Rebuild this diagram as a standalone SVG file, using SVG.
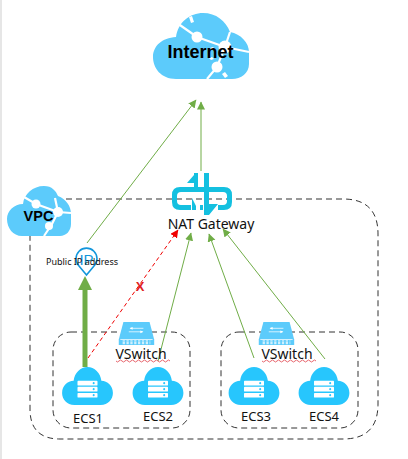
<svg xmlns="http://www.w3.org/2000/svg" width="408" height="459" viewBox="0 0 408 459">
<style>
.lbl{font-family:"Noto Sans","Liberation Sans",Arial,sans-serif;fill:#111}
.bold{font-family:"Liberation Sans",Arial,sans-serif;font-weight:700;fill:#000}
.dash{fill:none;stroke:#333;stroke-width:1;stroke-dasharray:6 4}
.g{fill:none;stroke:#70ad47;stroke-width:1}
.cloud{fill:#5ccbfb}
.cut{fill:none;stroke:#fff;stroke-width:2.2}
.ecs{fill:#27c6fd}
.bar{fill:#fff}
.natf{fill:#14c0e0}
.sw{fill:#5ccbfb}
.swl{stroke:#fff;stroke-width:1;fill:none}
.sq{fill:none;stroke:#e0404a;stroke-width:.8}
</style>
<defs>
<marker id="ga" markerWidth="9" markerHeight="9" refX="7.500" refY="4" orient="auto" markerUnits="userSpaceOnUse"><path d="M0 0L8 4L0 8Z" fill="#70ad47"/></marker>
<marker id="ra" markerWidth="9" markerHeight="9" refX="7.500" refY="4" orient="auto" markerUnits="userSpaceOnUse"><path d="M0 0L8 4L0 8Z" fill="#f00000"/></marker>
<g id="server"><path class="ecs" d="M-17 22C-27 22-33 15-33 8C-33 0-26-6-18-6C-17-15-9-22 0-22C9-22 17-15 18-6C26-6 33 0 33 8C33 15 27 22 17 22Z"/><g class="bar"><rect x="-13" y="-6" width="26" height="5.500" rx="1"/><rect x="-13" y="1" width="26" height="5.500" rx="1"/><rect x="-13" y="8" width="26" height="5.500" rx="1"/></g><g class="ecs"><circle cx="8" cy="-3.300" r="1.300"/><circle cx="8" cy="3.700" r="1.300"/><circle cx="8" cy="10.700" r="1.300"/></g></g>
<g id="switch"><path class="sw" d="M7 0H41L47 25V33H1V25Z"/><path class="swl" d="M3 25H45M16 9H33M14 14H32"/><path d="M15 9l4-2v4zM33 14l-4-2v4z" fill="#fff"/><path d="M6 27h36M6 29h36M6 31h36" stroke="#fff" stroke-width="1.200" stroke-dasharray="3 2"/></g>
</defs>
<rect width="408" height="459" fill="#fff"/>
<rect width="2" height="459" fill="#e6e6e6"/>

<g id="connectors">
<path class="dash" d="M56 199H343Q378 199 378 234V404Q378 439 343 439H60Q30 439 30 409V236"/>
<rect class="dash" x="53" y="332" width="137" height="96" rx="18"/>
<rect class="dash" x="221" y="332" width="137" height="96" rx="18"/>
<path class="g" d="M87 243L196 100" marker-end="url(#ga)"/>
<path class="g" d="M201 171V102" marker-end="url(#ga)"/>
<path class="g" d="M158 361L191 233" marker-end="url(#ga)"/>
<path class="g" d="M254 358L209 234" marker-end="url(#ga)"/>
<path class="g" d="M325 359L223 229" marker-end="url(#ga)"/>
<path d="M88 358L178 230" fill="none" stroke="#f00000" stroke-width="1" stroke-dasharray="4 3" marker-end="url(#ra)"/>
<path d="M85 367V288" fill="none" stroke="#70ad47" stroke-width="5"/>
<path d="M78 290L85 276L92 290Z" fill="#70ad47"/>
</g>

<g id="internet">
<path class="cloud" d="M176 79C161 79 153 68 153 57C153 46 162 38 176 37C178 22 190 13 203 13C216 13 226 21 230 32C241 34 249 43 249 52V64C249 73 241 79 232 79Z"/>
<path class="cut" d="M177 23L197 37L225 47L249 52M225 47L230 32M225 47L217 67L207 79"/>
<circle cx="197" cy="37" r="5.500" fill="#fff"/><circle cx="225" cy="47" r="6.500" fill="#fff"/><circle cx="217" cy="67" r="5.500" fill="#fff"/>
<path d="M189 17l3-1 2 6-3 1zM222 74l3-2 3 4-3 2zM210 48l3-1 2 2-3 1zM209 58l3-1 2 2-3 1z" fill="#fff"/>
<text class="bold" x="200.500" y="58" font-size="18" text-anchor="middle">Internet</text>
</g>

<g id="vpc">
<path class="cloud" d="M22 236C13 236 7 228 7 219C7 211 14 204 23 204C24 194 33 186 44 186C52 186 56 191 58 196C66 199 71 206 71 214V224C71 231 66 236 60 236Z"/>
<path class="cut" d="M24 197L36 204L58 212L71 213M58 212L52 224L44 236M58 212L55 198"/>
<circle cx="36" cy="204" r="4.500" fill="#fff"/><circle cx="58" cy="212" r="5" fill="#fff"/><circle cx="49" cy="226" r="4" fill="#fff"/>
<text class="bold" x="38.500" y="221" font-size="14.500" text-anchor="middle">VPC</text>
</g>

<g id="public-ip">
<path d="M86.500 275L79 266A10.500 10.500 0 1 1 94 266Z" fill="#fff" stroke="#1296db" stroke-width="1.600"/>
<text x="86.500" y="265" font-size="15" text-anchor="middle" fill="#1296db" font-family="Liberation Sans,sans-serif">IP</text>
<text class="lbl" x="82" y="264.500" font-size="9" text-anchor="middle">Public IP address</text>
</g>

<g id="nat-gateway">
<path class="natf" fill-rule="evenodd" d="M180 187H194V183H187L194 175V173H198V187H204V173H209V187H224Q232 187 232 195V202Q232 210 224 210H218V205H223Q227 205 227 201V196Q227 192 223 192H181Q177 192 177 196V201Q177 205 181 205H191V210H180Q172 210 172 202V195Q172 187 180 187Z"/>
<path class="natf" d="M204 192H209V204H218L209 215H204ZM192 198L196 206V210H192ZM200 205H203V210H200Z"/>
<text class="lbl" x="211" y="229" font-size="14" text-anchor="middle">NAT Gateway</text>
</g>

<text class="bold" x="140" y="291" font-size="13" text-anchor="middle" style="fill:#e02020">X</text>

<g id="vswitch1">
<use href="#switch" transform="translate(118 322) scale(.77 .7)"/>
<text class="lbl" x="141" y="359" font-size="14" text-anchor="middle">VSwitch</text>
<path class="sq" d="M116 361q1.500 2 3 0t3 0 3 0 3 0 3 0 3 0 3 0 3 0 3 0 3 0 3 0 3 0 3 0 3 0 3 0 3 0 3 0 3 0"/>
</g>
<g id="vswitch2">
<use href="#switch" transform="translate(258 322) scale(.77 .7)"/>
<text class="lbl" x="287" y="359" font-size="14" text-anchor="middle">VSwitch</text>
<path class="sq" d="M262 361q1.500 2 3 0t3 0 3 0 3 0 3 0 3 0 3 0 3 0 3 0 3 0 3 0 3 0 3 0 3 0 3 0 3 0 3 0 3 0"/>
</g>

<g id="ecs1"><use href="#server" transform="translate(87.500 386) scale(.77 .86)"/><text class="lbl" x="88" y="423" font-size="13" text-anchor="middle">ECS1</text></g>
<g id="ecs2"><use href="#server" transform="translate(158 386) scale(.77 .86)"/><text class="lbl" x="158" y="421" font-size="13" text-anchor="middle">ECS2</text></g>
<g id="ecs3"><use href="#server" transform="translate(254 386) scale(.77 .86)"/><text class="lbl" x="256" y="421" font-size="13" text-anchor="middle">ECS3</text></g>
<g id="ecs4"><use href="#server" transform="translate(324 386) scale(.77 .86)"/><text class="lbl" x="324" y="421" font-size="13" text-anchor="middle">ECS4</text></g>
</svg>
